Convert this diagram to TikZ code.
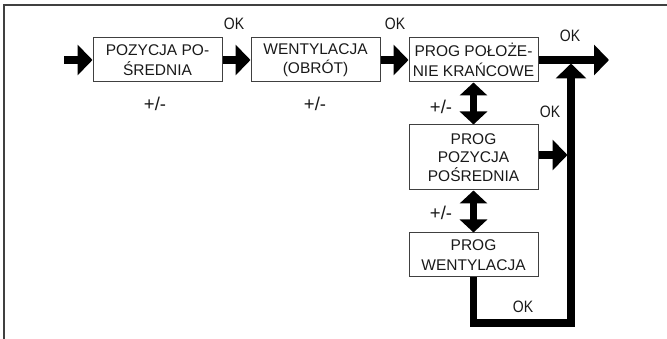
\documentclass[tikz,border=0pt]{standalone}
\usepackage{fontspec}
\setmainfont{Liberation Sans}
\newfontfamily\okfont[FakeStretch=0.85]{Liberation Sans}
\usetikzlibrary{arrows.meta}

\begin{document}
\begin{tikzpicture}[x=1pt,y=-1pt]
\tikzset{box/.style = {draw=black!75,line width=1pt,minimum width=129pt,minimum height=44pt,
  inner sep=0pt,align=center,text=black!90,font=\fontsize{15.5}{19.5}\selectfont}}
\tikzset{flow/.style = {line width=7.5pt,-{Triangle[width=30pt,length=15pt]}}}
\tikzset{both/.style = {line width=7.5pt,{Triangle[width=27pt,length=13pt]}-{Triangle[width=27pt,length=13pt]}}}
\tikzset{ok/.style = {font=\okfont\fontsize{16.5}{16.5}\selectfont,text=black!90}}
\tikzset{pm/.style = {font=\fontsize{18.5}{18.5}\selectfont,text=black!90}}
\useasboundingbox (0,0) rectangle (667,339);
% frame
\draw[black!75,line width=1.2pt] (4,339) -- (4,5) -- (667,5);
% boxes
\node[box] (pos)  at (157.5,60)  {POZYCJA PO-\\ŚREDNIA};
\node[box] (went) at (315.5,60)  {WENTYLACJA\\(OBRÓT)};
\node[box] (pkr)  at (473.5,60)  {PROG POŁOŻE-\\NIE KRAŃCOWE};
\node[box,minimum height=65pt,font=\fontsize{15.5}{18.5}\selectfont] (ppos) at (473.5,157.5) {PROG\\POZYCJA\\POŚREDNIA};
\node[box] (pwent) at (473.5,255) {PROG\\WENTYLACJA};
% points
\coordinate (start) at (64,60);
\coordinate (out)   at (609,60);
\coordinate (join)  at (571,63.5);
\coordinate (side)  at (567.5,155);
\coordinate (low)   at (473.5,323);
\coordinate (corner) at (571,323);
% arrows
\draw[flow] (start) -- (pos);
\draw[flow] (pos) -- (went);
\draw[flow] (went) -- (pkr);
\draw[flow] (pkr) -- (out);
\draw[flow] (ppos.east |- side) -- (side);
\draw[flow] (pwent) -- (low) -- (corner) -- (join);
\draw[both] (pkr) -- (ppos);
\draw[both] (ppos) -- (pwent);
% labels
\node[ok] (ok1) at (234,24) {OK};
\node[ok] (ok2) at (395,24) {OK};
\node[ok] (ok3) at (570,36) {OK};
\node[ok] (ok4) at (550,112) {OK};
\node[ok] (ok5) at (523,307) {OK};
\node[pm] (pm1) at (155,104) {+/-};
\node[pm] (pm2) at (315,104) {+/-};
\node[pm] (pm3) at (441,107) {+/-};
\node[pm] (pm4) at (441,213) {+/-};
\end{tikzpicture}
\end{document}
